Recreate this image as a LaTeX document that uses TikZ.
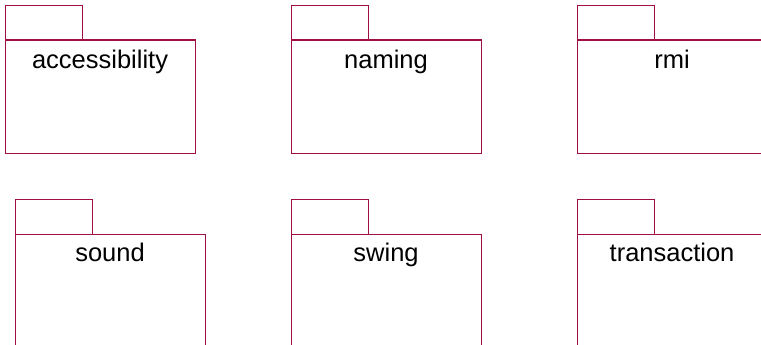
\documentclass[tikz,border=0pt]{standalone}
\usepackage{fontspec}
\setmainfont{Liberation Sans}
\definecolor{pkgline}{RGB}{160,15,70}
\tikzset{
  pkgbody/.style={draw=pkgline, color=pkgline, line width=1.1pt, rectangle, minimum width=190pt, minimum height=113pt, inner sep=0pt, anchor=north west},
  pkgtab/.style={draw=pkgline, line width=1.1pt},
  pkglabel/.style={anchor=base, inner sep=0pt, font=\fontsize{25.5pt}{30pt}\selectfont, text=black}
}
\begin{document}
\begin{tikzpicture}[x=1pt,y=-1pt]
\clip (0,0) rectangle (761,345);
\fill[white] (0,0) rectangle (761,345);
% row 1
\node[pkgbody] (b1) at (4.5,39.5) {};
\node[pkgbody] (b2) at (290.5,39.5) {};
\node[pkgbody] (b3) at (576.5,39.5) {};
% row 2
\node[pkgbody] (b4) at (14.5,233.5) {};
\node[pkgbody] (b5) at (290.5,233.5) {};
\node[pkgbody] (b6) at (576.5,233.5) {};
% tabs
\foreach \b in {b1,b2,b3,b4,b5,b6}{
  \draw[pkgtab] ([xshift=1pt]\b.north west) -- ++(0,-34) -- ++(77,0) -- ++(0,34);
}
% labels
\node[pkglabel] (l1) at ([yshift=-29pt]b1.north) {accessibility};
\node[pkglabel] (l2) at ([yshift=-29pt]b2.north) {naming};
\node[pkglabel] (l3) at ([yshift=-29pt]b3.north) {rmi};
\node[pkglabel] (l4) at ([yshift=-28pt]b4.north) {sound};
\node[pkglabel] (l5) at ([yshift=-28pt]b5.north) {swing};
\node[pkglabel] (l6) at ([yshift=-28pt]b6.north) {transaction};
\end{tikzpicture}
\end{document}
